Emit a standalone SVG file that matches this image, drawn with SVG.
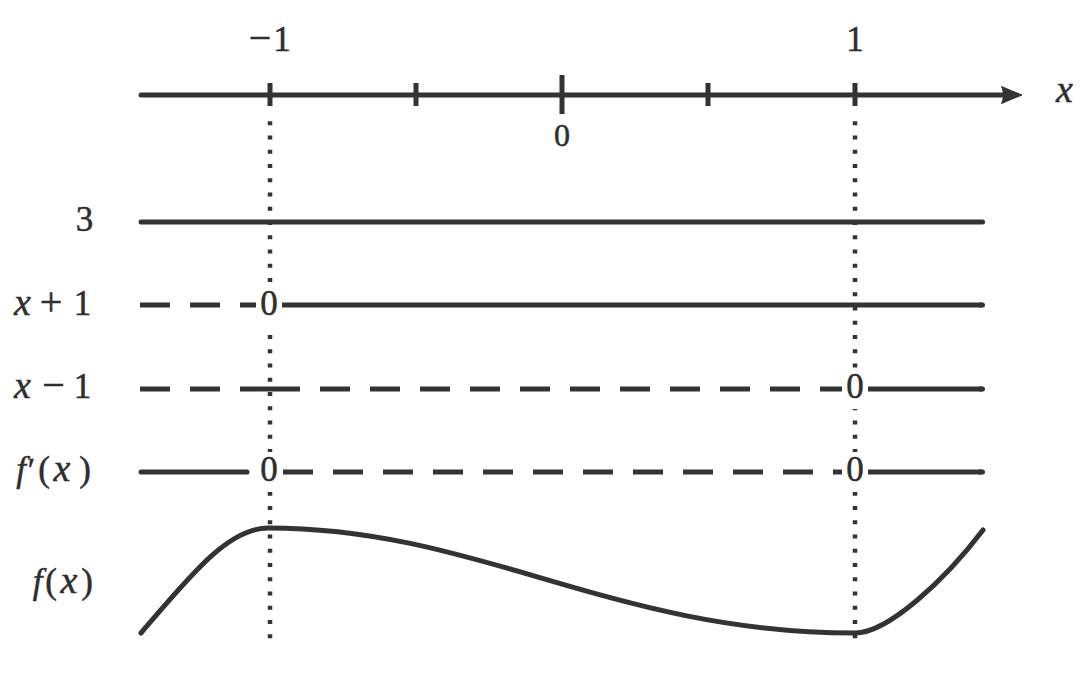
<svg xmlns="http://www.w3.org/2000/svg" width="1088" height="687" viewBox="0 0 1088 687">
<style>
.ln{stroke:#333;stroke-width:5;fill:none}
.rd{stroke-linecap:round}
.ds{stroke-dasharray:30 20}
.dot{stroke:#333;stroke-width:4.5;stroke-dasharray:4 10.25;fill:none}
.wb{fill:#fff}
</style>
<rect width="1088" height="687" fill="#fff"/>
<g id="guides">
<line class="dot" x1="270" y1="121.3" x2="270" y2="640"/>
<line class="dot" x1="855" y1="121.3" x2="855" y2="640"/>
</g>
<g id="axis">
<line class="ln rd" x1="141" y1="95" x2="1004" y2="95"/>
<path d="M1022,95 C1015,92 1008,89.5 1001.5,86.5 C1004,92 1004,98 1001.5,103.5 C1008,100.5 1015,98 1022,95 Z" fill="#333" stroke="#333" stroke-width="1" stroke-linejoin="round"/>
<line class="ln" x1="270" y1="83" x2="270" y2="106"/>
<line class="ln" x1="416" y1="83" x2="416" y2="106"/>
<line class="ln" x1="562" y1="75" x2="562" y2="114"/>
<line class="ln" x1="708" y1="83" x2="708" y2="106"/>
<line class="ln" x1="855" y1="83" x2="855" y2="106"/>
</g>
<g id="masks">
<rect class="wb" x="256" y="285" width="26" height="40"/>
<rect class="wb" x="842" y="369" width="26" height="40"/>
<rect class="wb" x="256" y="452" width="26" height="40"/>
<rect class="wb" x="842" y="452" width="26" height="40"/>
</g>
<g id="row-3">
<line class="ln rd" x1="141" y1="222" x2="982.5" y2="222"/>
</g>
<g id="row-xp1">
<line class="ln ds" x1="140" y1="305" x2="256" y2="305"/>
<line class="ln" x1="282" y1="305" x2="982.5" y2="305"/>
<line class="ln rd" x1="980" y1="305" x2="982.5" y2="305"/>
</g>
<g id="row-xm1">
<line class="ln ds" x1="140" y1="389" x2="270" y2="389"/>
<line class="ln ds" x1="270" y1="389" x2="842" y2="389"/>
<line class="ln" x1="868" y1="389" x2="982.5" y2="389"/>
<line class="ln rd" x1="980" y1="389" x2="982.5" y2="389"/>
</g>
<g id="row-fprime">
<line class="ln rd" x1="141" y1="472" x2="247" y2="472"/>
<line class="ln ds" x1="283" y1="472" x2="842" y2="472"/>
<line class="ln" x1="868" y1="472" x2="982.5" y2="472"/>
<line class="ln rd" x1="980" y1="472" x2="982.5" y2="472"/>
</g>
<g id="row-f">
<path class="ln rd" d="M141,633 C190,576 228,528 268,528 C480,528 612,633 855,633 C888,633 945,580 983,530"/>
</g>
<g id="labels" font-family="'Liberation Serif', 'DejaVu Serif', serif" font-size="35" fill="#2e2e2e" stroke="#2e2e2e" stroke-width="0.5" text-anchor="middle">
<text y="50.5"><tspan x="260" font-size="40">−</tspan><tspan x="282">1</tspan></text>
<text x="855" y="50.5">1</text>
<text x="562" y="146" font-size="32">0</text>
<text x="1064.5" y="102" font-style="italic" font-size="38">x</text>
<text x="84.5" y="231">3</text>
<text x="269" y="315">0</text>
<text y="315"><tspan x="22.5" font-style="italic" font-size="38">x</tspan><tspan x="51" font-size="40">+</tspan><tspan x="82.5">1</tspan></text>
<text x="855" y="398">0</text>
<text y="398"><tspan x="22.5" font-style="italic" font-size="38">x</tspan><tspan x="53.5" font-size="40">−</tspan><tspan x="82.5">1</tspan></text>
<text x="269" y="481">0</text>
<text x="855" y="481">0</text>
<text y="481"><tspan x="21" font-style="italic">f</tspan><tspan x="31.5" font-size="34">′</tspan><tspan x="44">(</tspan><tspan x="62" font-style="italic" font-size="38">x</tspan><tspan x="85">)</tspan></text>
<text y="593"><tspan x="37.5" font-style="italic">f</tspan><tspan x="51">(</tspan><tspan x="69" font-style="italic" font-size="38">x</tspan><tspan x="87">)</tspan></text>
</g>
</svg>
